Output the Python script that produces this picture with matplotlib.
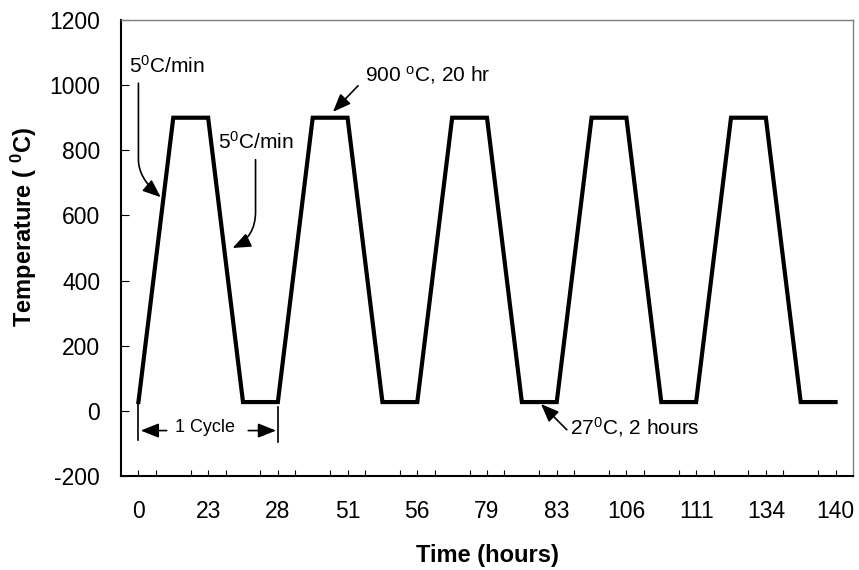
"""Thermal cycling profile: temperature versus time."""
import numpy as np
import matplotlib as mpl
mpl.use("Agg")
from matplotlib import pyplot as plt
from matplotlib.path import Path
from matplotlib.patches import FancyArrowPatch

mpl.rcParams["font.family"] = "Liberation Sans"
mpl.rcParams["mathtext.fontset"] = "custom"
mpl.rcParams["mathtext.rm"] = "Liberation Sans"
mpl.rcParams["mathtext.it"] = "Liberation Sans:italic"
mpl.rcParams["mathtext.bf"] = "Liberation Sans:bold"
mpl.rcParams["axes.unicode_minus"] = False

# Data: one point every cycle step (ramp up, hold, ramp down, hold)
temps = [27, 900, 900, 27, 27, 900, 900, 27, 27, 900, 900,
         27, 27, 900, 900, 27, 27, 900, 900, 27, 27]
hour_labels = ["0", "23", "28", "51", "56", "79", "83",
               "106", "111", "134", "140"]
yticks = list(range(-200, 1201, 200))

x = np.arange(len(temps))

fig = plt.figure(figsize=(8.59, 5.70), dpi=100)
ax = fig.add_axes([121 / 859, 94 / 570, 732 / 859, 456 / 570])

ax.plot(x, temps, color="black", lw=3.0, solid_joinstyle="miter")

ax.set_xlim(-0.5, len(temps) - 0.5)
ax.set_ylim(-200, 1200)
ax.set_yticks(yticks)
ax.set_xticks(x[::2])
ax.set_xticklabels(hour_labels)
ax.set_xticks(np.arange(0.5, len(temps) - 1, 1.0), minor=True)

ax.tick_params(axis="x", which="both", direction="in", length=4.3,
               width=0.8, labelsize=16.5, pad=17)
ax.tick_params(axis="y", direction="in", length=5.4, width=0.8,
               labelsize=16.5, pad=15)

# Spines: heavy left/bottom, light grey top/right
for side in ["left", "bottom"]:
    ax.spines[side].set_linewidth(1.5)
    ax.spines[side].set_color("black")
for side in ["top", "right"]:
    ax.spines[side].set_linewidth(1.0)
    ax.spines[side].set_color("#7f7f7f")

ax.set_xlabel("Time (hours)", fontsize=17, fontweight="bold")
ax.set_ylabel(r"Temperature ( $^{\mathbf{0}}$C)", fontsize=17,
              fontweight="bold")
ax.xaxis.set_label_coords(0.5, -0.15)
ax.yaxis.set_label_coords(-0.112, 0.546)

# Annotations
ann_fs = 15
arrow_kw = dict(arrowstyle="-|>,head_length=0.55,head_width=0.22",
                mutation_scale=20, lw=1.2, color="black",
                shrinkA=0, shrinkB=0)

ax.text(-0.27, 1039, r"5$^0$C/min", fontsize=ann_fs, va="baseline")
p1 = Path([(0.0, 1006), (0.0, 771), (0.0, 715), (0.64, 656)],
          [Path.MOVETO, Path.LINETO, Path.CURVE3, Path.CURVE3])
ax.add_patch(FancyArrowPatch(path=p1, **arrow_kw))

ax.text(2.29, 806, r"5$^0$C/min", fontsize=ann_fs, va="baseline")
p2 = Path([(3.36, 771), (3.36, 611), (3.36, 534), (2.70, 500)],
          [Path.MOVETO, Path.LINETO, Path.CURVE3, Path.CURVE3])
ax.add_patch(FancyArrowPatch(path=p2, **arrow_kw))

ax.text(6.5, 1011, r"900 $^{\rm o}$C, 20 hr", fontsize=ann_fs,
        va="baseline")
ax.add_patch(FancyArrowPatch((6.30, 998), (5.58, 918), **arrow_kw))

ax.text(12.38, -71.5, r"27$^0$C, 2 hours", fontsize=ann_fs, va="baseline")
ax.add_patch(FancyArrowPatch((12.29, -58), (11.55, 21), **arrow_kw))

# One cycle marker
ax.plot([0.0, 0.0], [34, -89], color="black", lw=1.2)
ax.plot([4.0, 4.0], [12, -95], color="black", lw=1.2)
ax.add_patch(FancyArrowPatch((0.81, -60.5), (0.065, -60.5), **arrow_kw))
ax.add_patch(FancyArrowPatch((3.15, -60.5), (3.95, -60.5), **arrow_kw))
ax.text(1.91, -63.5, "1 Cycle", fontsize=13, ha="center", va="baseline")

plt.savefig("out.png", dpi=100)
plt.close()
